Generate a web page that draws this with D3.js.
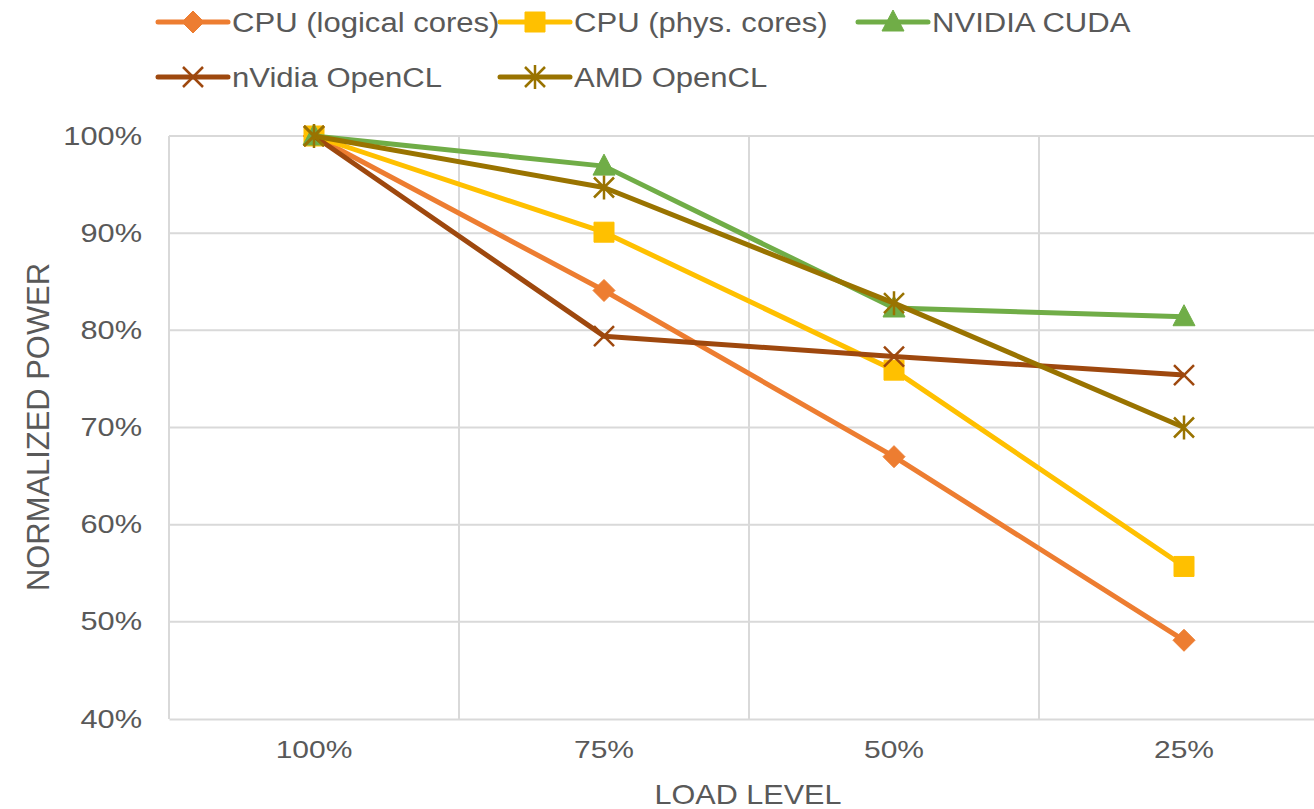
<!DOCTYPE html>
<html>
<head>
<meta charset="utf-8">
<script src="https://cdn.jsdelivr.net/npm/d3@7"></script>
<style>
  body { margin: 0; background: #fff; }
  text { font-family: "Liberation Sans", Arial, sans-serif; fill: #595959; }
</style>
</head>
<body>
<div id="chart"></div>
<script>
var svgWidth = 1314;
var svgHeight = 809;

var loadLevels = ["100%", "75%", "50%", "25%"];
var yTicks = [40, 50, 60, 70, 80, 90, 100];

var seriesNames = ["CPU (logical cores)", "CPU (phys. cores)", "NVIDIA CUDA", "nVidia OpenCL", "AMD OpenCL"];
var cpuLogical = [100, 84.1, 67.0, 48.1];
var cpuPhys = [100, 90.1, 75.9, 55.7];
var nvidiaCuda = [100, 96.9, 82.3, 81.4];
var nvidiaOpenCL = [100, 79.4, 77.3, 75.4];
var amdOpenCL = [100, 94.7, 82.8, 70.0];

var colors = ["#ED7D31", "#FFC000", "#70AD47", "#9E480E", "#997300"];
var markers = ["diamond", "square", "triangle", "x", "star"];

var series = [cpuLogical, cpuPhys, nvidiaCuda, nvidiaOpenCL, amdOpenCL].map(function(vals, i) {
  return { name: seriesNames[i], values: vals, color: colors[i], marker: markers[i] };
});

var plot = { left: 169, right: 1329, top: 136, bottom: 719 };

var svg = d3.select("#chart")
  .append("svg")
  .attr("width", svgWidth)
  .attr("height", svgHeight);

var x = d3.scaleBand()
  .domain(loadLevels)
  .range([plot.left, plot.right])
  .padding(0);

var y = d3.scaleLinear()
  .domain([40, 100])
  .range([plot.bottom, plot.top]);

function cx(d) { return x(d) + x.bandwidth() / 2; }

// the reference text is a bit wider than normal glyphs
function stretch(sel, k) {
  sel.each(function() {
    var w = this.getComputedTextLength();
    d3.select(this)
      .attr("textLength", w * k)
      .attr("lengthAdjust", "spacingAndGlyphs");
  });
}

// horizontal gridlines
svg.append("g")
  .selectAll("line")
  .data(yTicks.slice(1))
  .enter()
  .append("line")
  .attr("x1", plot.left)
  .attr("x2", plot.right)
  .attr("y1", d => y(d))
  .attr("y2", d => y(d))
  .attr("stroke", "#d9d9d9")
  .attr("stroke-width", 2);

// vertical gridlines between categories
svg.append("g")
  .selectAll("line")
  .data(loadLevels.slice(1))
  .enter()
  .append("line")
  .attr("x1", d => x(d))
  .attr("x2", d => x(d))
  .attr("y1", plot.top)
  .attr("y2", plot.bottom)
  .attr("stroke", "#d9d9d9")
  .attr("stroke-width", 2);

// left border
svg.append("line")
  .attr("x1", plot.left).attr("x2", plot.left)
  .attr("y1", plot.top).attr("y2", plot.bottom)
  .attr("stroke", "#d9d9d9").attr("stroke-width", 2);

// y axis
var yAxis = svg.append("g")
  .attr("transform", `translate(${plot.left}, 0)`)
  .call(d3.axisLeft(y).tickValues(yTicks).tickFormat(d => d + "%").tickSize(0).tickPadding(27));
yAxis.select(".domain").remove();
yAxis.selectAll("text")
  .attr("font-size", "25px")
  .attr("fill", "#595959")
  .attr("font-family", "Liberation Sans, Arial, sans-serif")
  .call(stretch, 1.23);

// x axis
var xAxis = svg.append("g")
  .attr("transform", `translate(0, ${plot.bottom})`)
  .call(d3.axisBottom(x).tickSize(0).tickPadding(22));
xAxis.select(".domain")
  .attr("stroke", "#d9d9d9")
  .attr("stroke-width", 2);
xAxis.selectAll("text")
  .attr("font-size", "24px")
  .attr("fill", "#595959")
  .attr("font-family", "Liberation Sans, Arial, sans-serif")
  .call(stretch, 1.25);

// axis titles
svg.append("text")
  .attr("transform", "translate(49, 427) rotate(-90)")
  .attr("text-anchor", "middle")
  .attr("font-size", "31px")
  .attr("textLength", 328)
  .attr("lengthAdjust", "spacingAndGlyphs")
  .text("NORMALIZED POWER");

svg.append("text")
  .attr("x", 748)
  .attr("y", 804)
  .attr("text-anchor", "middle")
  .attr("font-size", "28px")
  .attr("textLength", 187)
  .attr("lengthAdjust", "spacingAndGlyphs")
  .text("LOAD LEVEL");

function markerPath(type) {
  if (type === "diamond") return "M0,-11L11,0L0,11L-11,0Z";
  if (type === "square") return "M-10,-10H10V10H-10Z";
  if (type === "triangle") return "M0,-12L11,9H-11Z";
  if (type === "x") return "M-10,-10L10,10M-10,10L10,-10";
  return "M-10,-10L10,10M-10,10L10,-10M0,-12V12";
}

function drawMarker(g, type, color) {
  var filled = type === "diamond" || type === "square" || type === "triangle";
  g.append("path")
    .attr("d", markerPath(type))
    .attr("fill", filled ? color : "none")
    .attr("stroke", color)
    .attr("stroke-width", filled ? 1 : 2.5);
}

var line = d3.line()
  .x((d, i) => cx(loadLevels[i]))
  .y(d => y(d));

var seriesGroup = svg.append("g");

series.forEach(function(s) {
  var g = seriesGroup.append("g");
  g.append("path")
    .datum(s.values)
    .attr("d", line)
    .attr("fill", "none")
    .attr("stroke", s.color)
    .attr("stroke-width", 5)
    .attr("stroke-linejoin", "round");
  s.values.forEach(function(v, i) {
    var m = g.append("g")
      .attr("transform", `translate(${cx(loadLevels[i])}, ${y(v)})`);
    drawMarker(m, s.marker, s.color);
  });
});

// legend
var legendPos = [[158, 22], [500, 22], [858, 22], [158, 77], [500, 77]];
var legend = svg.append("g");
series.forEach(function(s, i) {
  var item = legend.append("g")
    .attr("transform", `translate(${legendPos[i][0]}, ${legendPos[i][1]})`);
  item.append("line")
    .attr("x1", 0).attr("x2", 70)
    .attr("y1", 0).attr("y2", 0)
    .attr("stroke", s.color)
    .attr("stroke-width", 5)
    .attr("stroke-linecap", "round");
  var m = item.append("g").attr("transform", "translate(35, 0)");
  drawMarker(m, s.marker, s.color);
  item.append("text")
    .attr("x", 74)
    .attr("y", 10)
    .attr("font-size", "27px")
    .text(s.name)
    .call(stretch, 1.15);
});
</script>
</body>
</html>
